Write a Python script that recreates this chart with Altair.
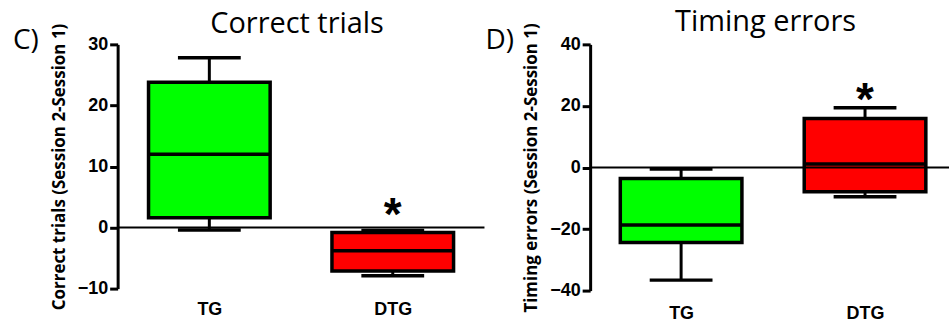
import altair as alt
import pandas as pd

groups = ["TG", "DTG"]
colors = ["#00FF00", "#FF0000"]

# Panel C: Correct trials (Session 2 - Session 1)
ct_min = [-0.4, -7.9]
ct_q1 = [1.6, -7.1]
ct_med = [12.0, -3.8]
ct_q3 = [23.8, -0.8]
ct_max = [27.8, -0.5]
ct_star_group = ["DTG"]
ct_star_y = [3.5]
ct_ticks = [-10, 0, 10, 20, 30]

# Panel D: Timing errors (Session 2 - Session 1)
te_min = [-36.6, -9.5]
te_q1 = [-24.4, -7.9]
te_med = [-18.7, 1.1]
te_q3 = [-3.6, 15.9]
te_max = [-0.5, 19.4]
te_star_group = ["DTG"]
te_star_y = [24.7]
te_ticks = [-40, -20, 0, 20, 40]


def panel(mins, q1s, meds, q3s, maxs, star_g, star_y, ticks, title, letter,
          ytitle, width, height, pad, align, label_pad, title_y, title_x):
    df = pd.DataFrame({"group": groups, "min": mins, "q1": q1s, "med": meds,
                       "q3": q3s, "max": maxs})
    dom = [ticks[0], ticks[-1]]
    x = alt.X("group:N", sort=groups,
              scale=alt.Scale(type="point", padding=pad, align=align),
              axis=alt.Axis(title=None, domain=False, ticks=False, labelAngle=0,
                            labelPadding=label_pad, labelFont="Liberation Sans",
                            labelFontWeight="bold", labelFontSize=18,
                            labelColor="black"))
    yscale = alt.Scale(domain=dom, nice=False, zero=False)
    y = alt.Y("min:Q", scale=yscale,
              axis=alt.Axis(title=ytitle, values=ticks, grid=False,
                            domainWidth=3, domainColor="black",
                            tickWidth=3, tickColor="black", tickSize=8,
                            labelFont="Liberation Sans", labelFontWeight="bold",
                            labelFontSize=18, labelColor="black", labelPadding=2,
                            titleFont="Open Sans", titleFontWeight="bold",
                            titleFontSize=17, titleColor="black",
                            titlePadding=9))
    base = alt.Chart(df).encode(x=x)
    whisker = base.mark_rule(color="black", strokeWidth=3, opacity=1).encode(
        y=y, y2="max:Q")
    box = base.mark_bar(size=122, stroke="black", strokeWidth=3.5, opacity=1).encode(
        y=alt.Y("q1:Q", scale=yscale), y2="q3:Q",
        color=alt.Color("group:N", scale=alt.Scale(domain=groups, range=colors),
                        legend=None))
    med = base.mark_tick(color="black", size=122, thickness=3.5, opacity=1).encode(
        y=alt.Y("med:Q", scale=yscale))
    cap_lo = base.mark_tick(color="black", size=63, thickness=3.5, opacity=1).encode(
        y=alt.Y("min:Q", scale=yscale))
    cap_hi = base.mark_tick(color="black", size=63, thickness=3.5, opacity=1).encode(
        y=alt.Y("max:Q", scale=yscale))
    zero = alt.Chart(pd.DataFrame({"z": [0]})).mark_rule(
        color="black", strokeWidth=2).encode(y=alt.Y("z:Q", scale=yscale))
    star = alt.Chart(pd.DataFrame({"group": star_g, "y": star_y})).mark_text(
        text="*", font="Liberation Sans", fontWeight="bold", fontSize=46,
        baseline="alphabetic", dy=24, color="black").encode(
        x=alt.X("group:N", sort=groups), y=alt.Y("y:Q", scale=yscale))
    lett = alt.Chart(pd.DataFrame({"t": [letter]})).mark_text(
        font="Open Sans", fontSize=28, align="left", baseline="middle",
        color="black").encode(text="t:N", x=alt.value(-105), y=alt.value(-3))
    ttl = alt.Chart(pd.DataFrame({"t": [title]})).mark_text(
        font="Open Sans", fontSize=29, align="center", baseline="middle",
        color="black").encode(text="t:N", x=alt.value(title_x), y=alt.value(title_y))
    return alt.layer(whisker, box, med, cap_lo, cap_hi, zero, star, lett, ttl).properties(
        width=width, height=height)


left = panel(ct_min, ct_q1, ct_med, ct_q3, ct_max, ct_star_group, ct_star_y,
             ct_ticks, "Correct trials", "C)",
             "Correct trials (Session 2-Session 1)", 368, 245, 0.5, 0.5, 12,
             -20, 180)
right = panel(te_min, te_q1, te_med, te_q3, te_max, te_star_group, te_star_y,
              te_ticks, "Timing errors", "D)",
              "Timing errors (Session 2-Session 1)", 360, 247, 0.4756, 0.52, 14,
              -22, 176)

chart = alt.hconcat(left, right, spacing=0).properties(
    padding={"left": 13, "top": 8, "right": 0, "bottom": 0},
    background="white"
).configure_view(stroke=None)

chart.save("out.html", embed_options={"renderer": "svg", "actions": False})
